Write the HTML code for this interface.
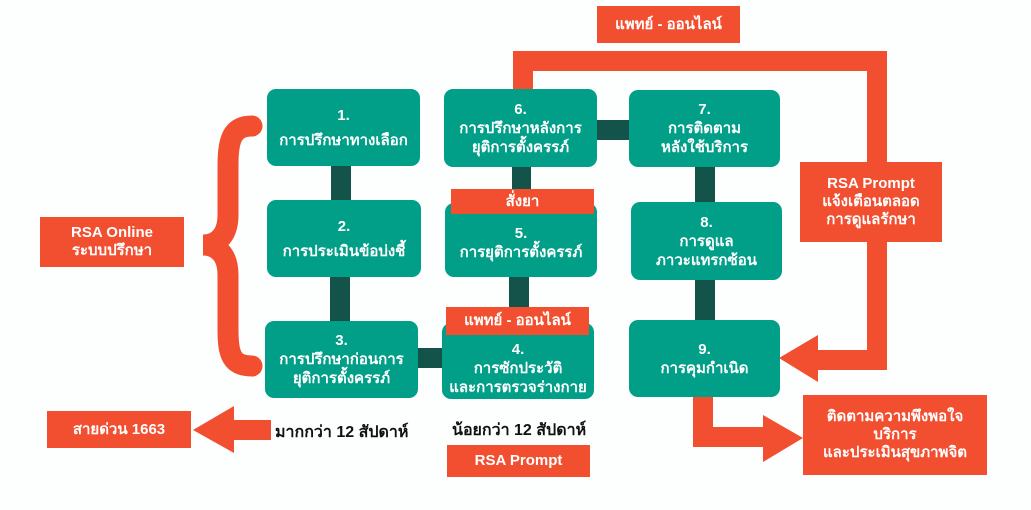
<!DOCTYPE html>
<html><head><meta charset="utf-8">
<style>
body{margin:0;width:1031px;height:510px;background:#fdfefe;position:relative;overflow:hidden;font-family:"Liberation Sans","DejaVu Sans",sans-serif;font-weight:bold}
.b{position:absolute;background:#019e88;border-radius:9px;color:#fff;font-size:15px;line-height:19px;text-align:center;display:flex;flex-direction:column;justify-content:center}
.o{position:absolute;background:#f24e30;color:#fff;font-size:15px;line-height:18px;text-align:center;display:flex;flex-direction:column;justify-content:center}
.c{position:absolute;background:#14534a}
.t{position:absolute;font-size:16px;color:#111;}
</style></head><body>
<svg width="1031" height="510" style="position:absolute;left:0;top:0">
<g fill="#f24e30">
<polygon points="513,51 887,51 887,162 867,162 867,71 533,71 533,92 513,92"/>
<polygon points="867,242 887,242 887,370 818,370 818,382 779,358 818,335 818,350 867,350"/>
<polygon points="693,395 713,395 713,427 763,427 763,415 803,438 763,462 763,447 693,447"/>
<polygon points="271,420 271,440 234,440 234,453 193,430 234,406 234,420"/>
</g>
<path d="M252,126 C232,126 228,140 228,165 L228,215 C228,238 215,245 203,245 C215,245 228,252 228,275 L228,330 C228,355 232,366 252,366" fill="none" stroke="#f24e30" stroke-width="21" stroke-linecap="round"/>
</svg>
<div class="c" style="left:331px;top:160px;width:20px;height:45px"></div>
<div class="c" style="left:330px;top:272px;width:20px;height:54px"></div>
<div class="c" style="left:412px;top:348px;width:36px;height:20px"></div>
<div class="c" style="left:512px;top:160px;width:19px;height:45px"></div>
<div class="c" style="left:509px;top:272px;width:20px;height:54px"></div>
<div class="c" style="left:590px;top:120px;width:45px;height:20px"></div>
<div class="c" style="left:695px;top:160px;width:20px;height:48px"></div>
<div class="c" style="left:695px;top:274px;width:20px;height:52px"></div>

<div class="b" style="left:267px;top:89px;width:153px;height:77px">1.<br><span style="margin-top:6px">การปรึกษาทางเลือก</span></div>
<div class="b" style="left:267px;top:200px;width:154px;height:77px">2.<br><span style="margin-top:6px">การประเมินข้อบ่งชี้</span></div>
<div class="b" style="left:265px;top:321px;width:153px;height:77px">3.<br>การปรึกษาก่อนการ<br>ยุติการตั้งครรภ์</div>
<div class="b" style="left:444px;top:89px;width:153px;height:78px">6.<br>การปรึกษาหลังการ<br>ยุติการตั้งครรภ์</div>
<div class="b" style="left:445px;top:203px;width:152px;height:74px;padding-top:6px;box-sizing:border-box">5.<br>การยุติการตั้งครรภ์</div>
<div class="b" style="left:442px;top:323px;width:152px;height:76px;padding-top:14px;box-sizing:border-box">4.<br>การซักประวัติ<br>และการตรวจร่างกาย</div>
<div class="b" style="left:629px;top:90px;width:151px;height:77px">7.<br>การติดตาม<br>หลังใช้บริการ</div>
<div class="b" style="left:631px;top:202px;width:151px;height:78px">8.<br>การดูแล<br>ภาวะแทรกซ้อน</div>
<div class="b" style="left:629px;top:320px;width:151px;height:77px">9.<br>การคุมกำเนิด</div>

<div class="o" style="left:451px;top:189px;width:143px;height:25px">สั่งยา</div>
<div class="o" style="left:446px;top:307px;width:143px;height:28px">แพทย์ - ออนไลน์</div>
<div class="o" style="left:597px;top:6px;width:143px;height:37px">แพทย์ - ออนไลน์</div>
<div class="o" style="left:447px;top:445px;width:143px;height:32px">RSA Prompt</div>
<div class="o" style="left:40px;top:217px;width:144px;height:50px">RSA Online<br>ระบบปรึกษา</div>
<div class="o" style="left:47px;top:411px;width:144px;height:37px">สายด่วน 1663</div>
<div class="o" style="left:800px;top:162px;width:142px;height:80px">RSA Prompt<br>แจ้งเตือนตลอด<br>การดูแลรักษา</div>
<div class="o" style="left:803px;top:395px;width:184px;height:80px">ติดตามความพึงพอใจ<br>บริการ<br>และประเมินสุขภาพจิต</div>

<div class="t" style="left:275px;top:420px">มากกว่า 12 สัปดาห์</div>
<div class="t" style="left:452px;top:418px">น้อยกว่า 12 สัปดาห์</div>
</body></html>
